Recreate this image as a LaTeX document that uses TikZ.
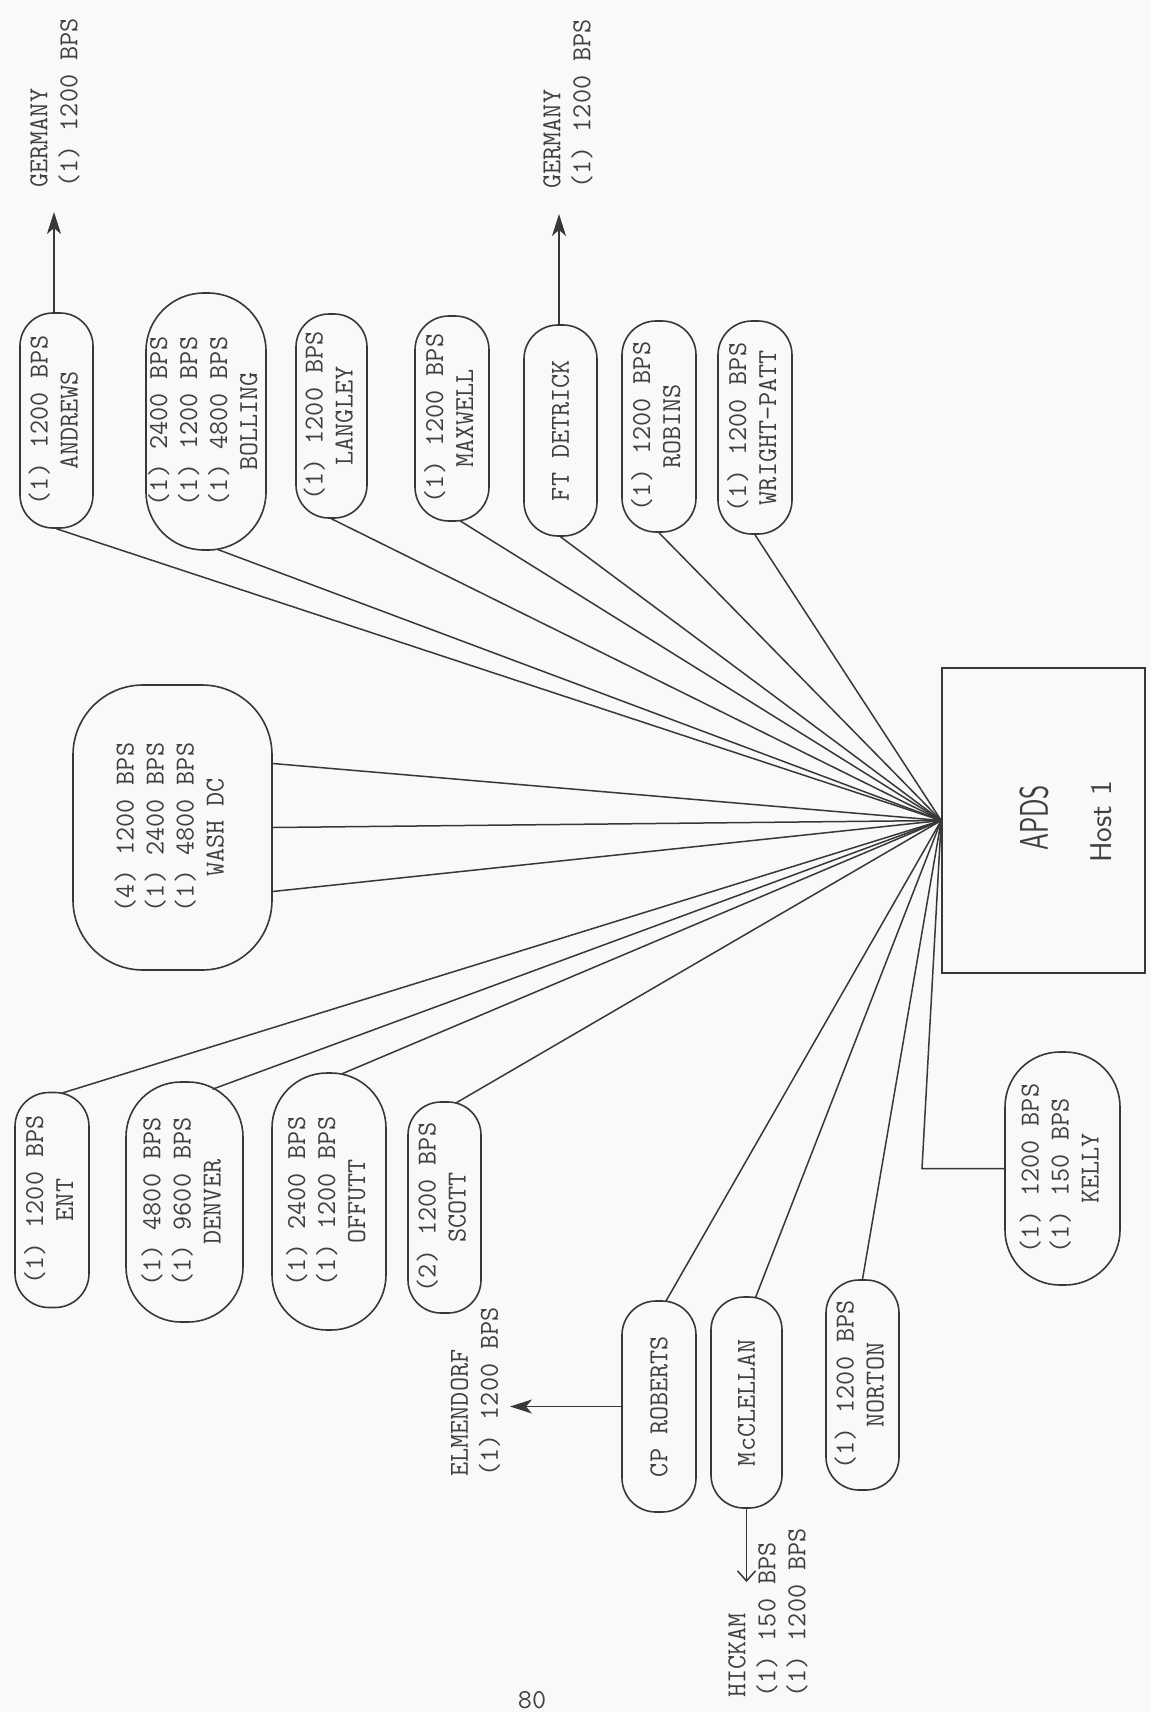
\documentclass[tikz,border=0pt]{standalone}
\usepackage{graphicx}
\usetikzlibrary{arrows.meta}
\definecolor{inkline}{gray}{0.22}
\definecolor{inktext}{gray}{0.25}
\definecolor{paper}{gray}{0.975}
% typewriter face used for every site label
\newcommand\tyfont{\ttfamily\fontsize{13.7pt}{15pt}\selectfont}
% site label: speed lines (left aligned) above a centred site name, turned upright
\newcommand\sitelabel[2]{\rotatebox{90}{\begin{tabular}{@{}l@{}}#1\\\multicolumn{1}{@{}c@{}}{#2}\end{tabular}}}
\begin{document}
\begin{tikzpicture}[x=0.5pt,y=-0.5pt,
  site/.style={draw=inkline, line width=0.8pt, inner sep=0pt, text=inktext, font=\tyfont},
  link/.style={draw=inkline, line width=0.75pt},
  feed/.style={link, -{Stealth[length=11pt,width=7pt,inset=3pt]}},
  feedopen/.style={link, -{Straight Barb[length=5pt,width=9pt]}},
  dest/.style={rotate=90, anchor=west, align=left, inner sep=0pt, text=inktext, font=\tyfont},
  hostlabel/.style={rotate=90, inner sep=0pt, text=inktext}]
\fill[paper] (0,0) rectangle (1151,1712);
\useasboundingbox (0,0) rectangle (1151,1712);

% host computer
\node[draw=inkline, line width=0.8pt, minimum width=101.5pt, minimum height=152.5pt, inner sep=0pt] (apds) at (1043.5,820.5) {};
\node[hostlabel, font=\sffamily\fontsize{20pt}{24pt}\selectfont] (apdsname) at (1034,818) {\scalebox{0.68}[1]{APDS}};
\node[hostlabel, font=\sffamily\fontsize{15pt}{18pt}\selectfont] (hostname) at (1101,822) {Host 1};

% upper row of sites
\node[site, minimum width=36.5pt, minimum height=107.5pt, rounded corners=16.5pt] (andrews) at (56.5,420.5) {\sitelabel{(1) 1200 BPS}{ANDREWS}};
\node[site, minimum width=59pt, minimum height=128.5pt, rounded corners=29pt] (bolling) at (206,421.5) {\sitelabel{(1) 2400 BPS\\(1) 1200 BPS\\(1) 4800 BPS}{BOLLING}};
\node[site, minimum width=35.5pt, minimum height=102pt, rounded corners=16.5pt] (langley) at (331.5,416) {\sitelabel{(1) 1200 BPS}{LANGLEY}};
\node[site, minimum width=37pt, minimum height=102.5pt, rounded corners=17pt] (maxwell) at (452,418.5) {\sitelabel{(1) 1200 BPS}{MAXWELL}};
\node[site, minimum width=36.5pt, minimum height=105.5pt, rounded corners=17pt] (detrick) at (560.5,430.5) {\rotatebox{90}{FT DETRICK}};
\node[site, minimum width=37pt, minimum height=105.5pt, rounded corners=17pt] (robins) at (659,426.5) {\sitelabel{(1) 1200 BPS}{ROBINS}};
\node[site, minimum width=37pt, minimum height=106.5pt, rounded corners=17pt] (wright) at (755,427.5) {\sitelabel{(1) 1200 BPS}{WRIGHT-PATT}};

% Washington
\node[site, minimum width=99.5pt, minimum height=142.5pt, rounded corners=35pt] (washdc) at (172.5,827.5) {\sitelabel{(4) 1200 BPS\\(1) 2400 BPS\\(1) 4800 BPS}{WASH DC}};

% lower row of sites
\node[site, minimum width=37pt, minimum height=107.5pt, rounded corners=17pt] (ent) at (52,1200) {\sitelabel{(1) 1200 BPS}{ENT}};
\node[site, minimum width=58.5pt, minimum height=120pt, rounded corners=27.5pt] (denver) at (184.5,1202) {\sitelabel{(1) 4800 BPS\\(1) 9600 BPS}{DENVER}};
\node[site, minimum width=57pt, minimum height=128.5pt, rounded corners=27.5pt] (offutt) at (329,1201.5) {\sitelabel{(1) 2400 BPS\\(1) 1200 BPS}{OFFUTT}};
\node[site, minimum width=36.5pt, minimum height=105.5pt, rounded corners=16.5pt] (scott) at (444.5,1207.5) {\sitelabel{(2) 1200 BPS}{SCOTT}};

\node[site, minimum width=37pt, minimum height=105.5pt, rounded corners=17pt] (cproberts) at (659,1406.5) {\rotatebox{90}{CP ROBERTS}};
\node[site, minimum width=35.5pt, minimum height=105.5pt, rounded corners=16.5pt] (mcclellan) at (746.5,1402.5) {\rotatebox{90}{McCLELLAN}};
\node[site, minimum width=36.5pt, minimum height=105pt, rounded corners=16.5pt] (norton) at (862.5,1385) {\sitelabel{(1) 1200 BPS}{NORTON}};
\node[site, minimum width=57.5pt, minimum height=116.5pt, rounded corners=27.5pt] (kelly) at (1062.5,1168.5) {\sitelabel{(1) 1200 BPS\\(1) 150 BPS}{KELLY}};

% lines into the host
\draw[link] (apds.west) -- (andrews.south);
\draw[link] (apds.west) -- ([xshift=6pt,yshift=0.6pt]bolling.south);
\draw[link] (apds.west) -- (langley.south);
\draw[link] (apds.west) -- ([xshift=4pt,yshift=0.5pt]maxwell.south);
\draw[link] (apds.west) -- (detrick.south);
\draw[link] (apds.west) -- (robins.south);
\draw[link] (apds.west) -- (wright.south);
\draw[link] (apds.west) -- ([yshift=32pt]washdc.east);
\draw[link] (apds.west) -- (washdc.east);
\draw[link] (apds.west) -- ([yshift=-32pt]washdc.east);
\draw[link] (apds.west) -- ([xshift=5pt,yshift=-0.7pt]ent.north);
\draw[link] (apds.west) -- ([xshift=14pt,yshift=-4pt]denver.north);
\draw[link] (apds.west) -- ([xshift=6.5pt,yshift=-0.8pt]offutt.north);
\draw[link] (apds.west) -- ([xshift=5.5pt,yshift=-1pt]scott.north);
\draw[link] (apds.west) -- ([xshift=3.5pt,yshift=-0.4pt]cproberts.north);
\draw[link] (apds.west) -- ([xshift=4.5pt,yshift=-0.7pt]mcclellan.north);
\draw[link] (apds.west) -- (norton.north);
\coordinate (kbend) at (922,1168.5);
\draw[link] (apds.west) -- (kbend) -- (kelly.west);

% onward circuits
\coordinate (gtipA) at (54,212);
\coordinate (gtipB) at (559,214);
\coordinate (etip) at (510,1406.5);
\coordinate (htip) at (746.5,1582);
\draw[feed] ([xshift=-1.25pt]andrews.north) -- (gtipA);
\draw[feed] ([xshift=-0.75pt]detrick.north) -- (gtipB);
\draw[feed] (cproberts.west) -- (etip);
\draw[feedopen] (mcclellan.south) -- (htip);

\node[dest] (germanyA) at (55,188) {GERMANY\\(1) 1200 BPS};
\node[dest] (germanyB) at (568,189) {GERMANY\\(1) 1200 BPS};
\node[dest] (elmendorf) at (475.5,1477) {ELMENDORF\\(1) 1200 BPS};
\node[dest] (hickam) at (768,1698) {HICKAM\\(1) 150 BPS\\(1) 1200 BPS};

% folio
\node[anchor=south, inner sep=0pt, text=inktext, font=\tyfont] (folio) at (532,1709) {80};
\end{tikzpicture}
\end{document}
